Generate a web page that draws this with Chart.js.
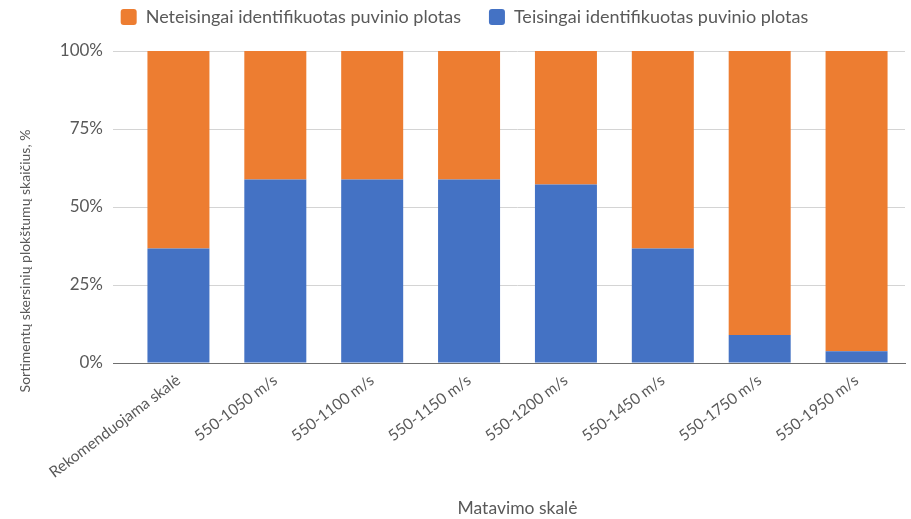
<!DOCTYPE html>
<html lang="lt">
<head>
<meta charset="utf-8">
<title>Puvinio ploto identifikavimas</title>
<script src="https://cdn.jsdelivr.net/npm/chart.js@4/dist/chart.umd.min.js"></script>
<style>
  html, body { margin: 0; padding: 0; background: #ffffff; }
  #wrap { width: 911px; height: 519px; position: relative; }
</style>
</head>
<body>
<div id="wrap"><canvas id="chart" width="911" height="519"></canvas></div>
<script>
// Matavimo skalės (kategorijos)
const categories = [
  'Rekomenduojama skalė',
  '550-1050 m/s',
  '550-1100 m/s',
  '550-1150 m/s',
  '550-1200 m/s',
  '550-1450 m/s',
  '550-1750 m/s',
  '550-1950 m/s'
];

// Teisingai identifikuotas puvinio plotas, %
const correctShare = [36.7, 58.8, 58.8, 58.8, 57.2, 36.7, 9.0, 3.8];

// Neteisingai identifikuotas puvinio plotas, %
const wrongShare = [63.3, 41.2, 41.2, 41.2, 42.8, 63.3, 91.0, 96.2];

// Y ašies žymos, %
const yTicks = [0, 25, 50, 75, 100];

const seriesNames = {
  correct: 'Teisingai identifikuotas puvinio plotas',
  wrong: 'Neteisingai identifikuotas puvinio plotas'
};
const yTitle = 'Sortimentų skersinių plokštumų skaičius, %';
const xTitle = 'Matavimo skalė';

const FONT = 'Lato, "Open Sans", "DejaVu Sans", sans-serif';
const TEXT = '#595959';

// Vertikalus y ašies pavadinimas kairėje
const yTitlePlugin = {
  id: 'yTitle',
  afterDraw(chart) {
    const ctx = chart.ctx;
    ctx.save();
    ctx.translate(25, 261);
    ctx.rotate(-Math.PI / 2);
    ctx.font = '14px ' + FONT;
    ctx.fillStyle = TEXT;
    ctx.textAlign = 'center';
    ctx.textBaseline = 'middle';
    ctx.fillText(yTitle, 0, 0);
    ctx.restore();
  }
};

// Legendos aukštis: platesni tarpai tarp elementų, bet kompaktiška eilutė
const legendHeightPlugin = {
  id: 'legendHeight',
  beforeInit(chart) {
    const legend = chart.legend;
    if (!legend) return;
    const fit = legend.fit;
    legend.fit = function () {
      fit.call(this);
      this.height += 15;
    };
  }
};

new Chart(document.getElementById('chart'), {
  type: 'bar',
  data: {
    labels: categories,
    datasets: [
      {
        label: seriesNames.correct,
        data: correctShare,
        backgroundColor: '#4472C4',
        borderWidth: 0
      },
      {
        label: seriesNames.wrong,
        data: wrongShare,
        backgroundColor: '#ED7D31',
        borderWidth: 0
      }
    ]
  },
  options: {
    responsive: false,
    animation: false,
    devicePixelRatio: 1,
    layout: { padding: { left: 24, right: 6, top: -20, bottom: 0 } },
    datasets: {
      bar: { categoryPercentage: 1.0, barPercentage: 0.64 }
    },
    plugins: {
      legend: {
        position: 'top',
        reverse: true,
        labels: {
          font: { family: FONT, size: 18 },
          color: TEXT,
          boxWidth: 16,
          boxHeight: 16,
          useBorderRadius: true,
          borderRadius: 3,
          padding: 28
        }
      },
      tooltip: { enabled: false }
    },
    scales: {
      x: {
        stacked: true,
        grid: { display: false, drawTicks: false },
        border: { display: true, color: '#6f6f6f', width: 1 },
        ticks: {
          font: { family: FONT, size: 15.5 },
          color: TEXT,
          minRotation: 37,
          maxRotation: 37,
          padding: 8
        },
        title: {
          display: true,
          text: xTitle,
          font: { family: FONT, size: 17.5 },
          color: TEXT,
          padding: { top: 0, bottom: 0 }
        },
        afterFit(scale) { scale.height = 156; }
      },
      y: {
        stacked: true,
        min: 0,
        max: 100,
        afterBuildTicks(scale) {
          scale.ticks = yTicks.map(v => ({ value: v }));
        },
        grid: {
          color: c => (c.tick && c.tick.value === 0 ? '#6f6f6f' : '#d4d4d4'),
          lineWidth: 1,
          drawTicks: true,
          tickLength: 17
        },
        border: { display: false },
        ticks: {
          font: { family: FONT, size: 17 },
          color: TEXT,
          padding: 10,
          callback: v => v + '%'
        },
        afterFit(scale) { scale.width = 106; }
      }
    }
  },
  plugins: [yTitlePlugin, legendHeightPlugin]
});
</script>
</body>
</html>
